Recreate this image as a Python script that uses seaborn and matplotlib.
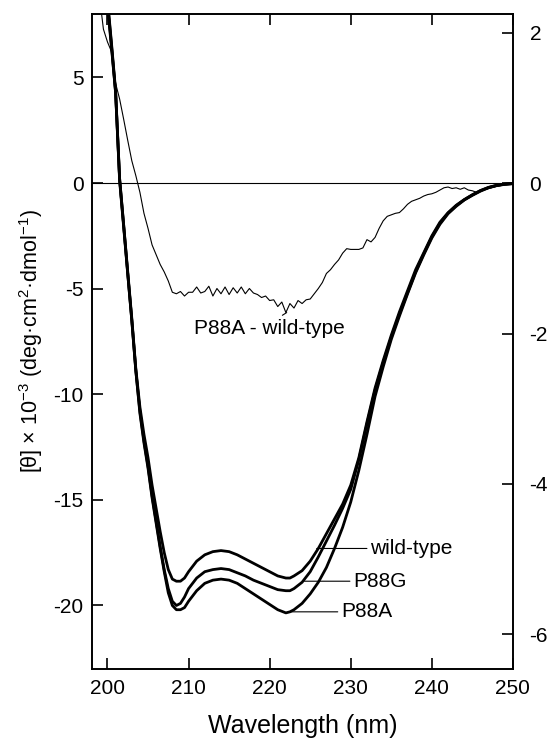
import matplotlib
matplotlib.use("Agg")
import matplotlib.pyplot as plt
import seaborn as sns

# thick spectra, left axis  ([theta] x 10^-3)
wl = [199, 200, 200.5, 201, 201.5, 202, 202.5, 203, 203.5, 204, 204.5, 205,
      205.5, 206, 206.5, 207, 207.5, 208, 208.5, 209, 209.5, 210, 211, 212,
      213, 214, 215, 216, 217, 218, 219, 220, 221, 222, 222.5, 223, 224, 225,
      226, 227, 228, 229, 230, 231, 232, 233, 234, 235, 236, 237, 238, 239,
      240, 241, 242, 243, 244, 245, 246, 247, 248, 249, 250]

wild_type = [12.5, 8.4, 6.4, 4.3, 0.2, -2.0, -4.2, -6.4, -8.8, -10.6, -11.9, -13.0,
             -14.3, -15.4, -16.5, -17.5, -18.3, -18.75, -18.85, -18.85, -18.7, -18.4, -17.9, -17.6,
             -17.45, -17.4, -17.45, -17.6, -17.8, -18.0, -18.2, -18.4, -18.6, -18.7, -18.7, -18.6, -18.35, -17.9,
             -17.3, -16.6, -15.9, -15.2, -14.3, -13.0, -11.3, -9.7, -8.4, -7.2, -6.1, -5.1, -4.1, -3.3,
             -2.5, -1.85, -1.4, -1.05, -0.78, -0.55, -0.35, -0.2, -0.1, -0.05, -0.02]

p88g = [12.8, 8.6, 6.5, 4.3, 0.1, -2.1, -4.3, -6.5, -8.9, -10.8, -12.2, -13.4,
        -14.8, -16.0, -17.2, -18.3, -19.2, -19.8, -20.0, -19.9, -19.6, -19.2, -18.7, -18.4,
        -18.3, -18.25, -18.3, -18.45, -18.6, -18.8, -18.95, -19.1, -19.25, -19.3, -19.3, -19.2, -18.9, -18.4,
        -17.7, -16.95, -16.2, -15.4, -14.5, -13.1, -11.4, -9.8, -8.5, -7.3, -6.2, -5.2, -4.2, -3.35,
        -2.55, -1.9, -1.42, -1.07, -0.79, -0.56, -0.36, -0.21, -0.11, -0.05, -0.02]

p88a = [13.0, 8.7, 6.6, 4.4, 0.2, -2.0, -4.3, -6.5, -8.9, -10.9, -12.3, -13.5,
        -14.9, -16.1, -17.3, -18.4, -19.4, -20.0, -20.2, -20.2, -20.1, -19.8, -19.3, -18.95,
        -18.8, -18.75, -18.8, -18.95, -19.2, -19.45, -19.7, -19.95, -20.2, -20.35, -20.3, -20.2, -19.9, -19.45,
        -18.9, -18.2, -17.3, -16.3, -15.1, -13.6, -11.9, -10.1, -8.7, -7.4, -6.3, -5.25, -4.25, -3.4,
        -2.6, -1.95, -1.45, -1.1, -0.8, -0.58, -0.38, -0.22, -0.12, -0.06, -0.03]

# difference spectrum P88A - wild-type, right axis
wl_diff = [199.0, 199.5, 200.0, 200.5, 201.0, 201.5, 202.0, 202.5, 203.0, 203.5,
           204.0, 204.5, 205.0, 205.5, 206.0, 206.5, 207.0, 207.5, 208.0, 208.5,
           209.0, 209.5, 210.0, 210.5, 211.0, 211.5, 212.0, 212.5, 213.0, 213.5,
           214.0, 214.5, 215.0, 215.5, 216.0, 216.5, 217.0, 217.5, 218.0, 218.5,
           219.0, 219.5, 220.0, 220.5, 221.0, 221.5, 222.0, 222.5, 223.0, 223.5,
           224.0, 224.5, 225.0, 225.5, 226.0, 226.5, 227.0, 227.5, 228.0, 228.5,
           229.0, 229.5, 230.0, 230.5, 231.0, 231.5, 232.0, 232.5, 233.0, 233.5,
           234.0, 234.5, 235.0, 235.5, 236.0, 236.5, 237.0, 237.5, 238.0, 238.5,
           239.0, 239.5, 240.0, 240.5, 241.0, 241.5, 242.0, 242.5, 243.0, 243.5,
           244.0, 244.5, 245.0, 245.5, 246.0, 247.0, 248.0, 249.0, 250.0]
diff = [2.5, 2.05, 1.88, 1.75, 1.33, 1.12, 0.85, 0.57, 0.30, 0.10,
        -0.12, -0.40, -0.60, -0.82, -0.95, -1.08, -1.18, -1.30, -1.45, -1.47,
        -1.44, -1.50, -1.45, -1.45, -1.38, -1.46, -1.44, -1.37, -1.50, -1.40,
        -1.47, -1.38, -1.48, -1.39, -1.46, -1.38, -1.47, -1.40, -1.46, -1.48,
        -1.52, -1.50, -1.56, -1.55, -1.64, -1.58, -1.72, -1.60, -1.66, -1.56,
        -1.60, -1.55, -1.54, -1.47, -1.40, -1.32, -1.20, -1.15, -1.08, -1.02,
        -0.93, -0.87, -0.88, -0.88, -0.88, -0.86, -0.75, -0.78, -0.72, -0.60,
        -0.50, -0.44, -0.42, -0.40, -0.39, -0.34, -0.28, -0.24, -0.22, -0.20,
        -0.17, -0.15, -0.14, -0.12, -0.09, -0.06, -0.05, -0.07, -0.06, -0.08,
        -0.06, -0.09, -0.10, -0.12, -0.10, -0.07, -0.04, -0.02, -0.01]

left_ticks = [5, 0, -5, -10, -15, -20]
right_ticks = [2, 0, -2, -4, -6]
x_ticks = [200, 210, 220, 230, 240, 250]

sns.set_style("ticks", {"axes.edgecolor": "black", "text.color": "black",
                        "axes.labelcolor": "black", "xtick.color": "black",
                        "ytick.color": "black"})
plt.rcParams["font.family"] = ["Liberation Sans", "DejaVu Sans"]
plt.rcParams["mathtext.default"] = "regular"
plt.rcParams["axes.unicode_minus"] = False
plt.rcParams["axes.linewidth"] = 1.2

fig = plt.figure(figsize=(5.48, 7.44), dpi=100)
ax = fig.add_axes([0.168, 0.101, 0.768, 0.880])

ax.axhline(0, color="black", lw=0.8, zorder=1)
for series in (wild_type, p88g, p88a):
    sns.lineplot(x=wl, y=series, ax=ax, color="black", lw=2.0)

ax.set_xlim(198.1, 250)
ax.set_ylim(-23, 8)
ax.set_xticks(x_ticks)
ax.set_yticks(left_ticks)
ax.tick_params(axis="x", direction="in", top=True, length=8, width=1.2,
               labelsize=15, pad=7)
ax.tick_params(axis="y", direction="in", right=False, length=8, width=1.2,
               labelsize=15, pad=6)
ax.set_xlabel("Wavelength (nm)", fontsize=18, labelpad=12)
ax.set_ylabel("[θ] × 10$^{-3}$ (deg·cm$^{2}$·dmol$^{-1}$)", fontsize=15.5, labelpad=6)

ax2 = ax.twinx()
sns.lineplot(x=wl_diff, y=diff, ax=ax2, color="black", lw=0.8)
ax2.set_ylim(-6.46, 2.25)
ax2.set_yticks(right_ticks)
ax2.tick_params(axis="y", direction="in", length=8, width=1.2, labelsize=15, pad=12)
ax2.set_ylabel("")

ann = dict(arrowstyle="-", lw=0.8, color="black", shrinkA=0, shrinkB=0)
ax2.annotate("P88A - wild-type", xy=(222.1, -1.72), xytext=(220.0, -1.80),
             ha="center", va="top", fontsize=15,
             arrowprops=dict(ann, relpos=(0.55, 1.0)))

labels = ["wild-type", "P88G", "P88A"]
label_xy = [(225.8, -17.3), (224.3, -18.85), (222.4, -20.3)]
label_text = [(232.4, -17.3), (230.3, -18.85), (228.8, -20.3)]
for name, xy, xt in zip(labels, label_xy, label_text):
    ax.annotate(name, xy=xy, xytext=xt, ha="left", va="center", fontsize=15,
                arrowprops=dict(ann, relpos=(0.0, 0.5)))

fig.savefig("out.png", dpi=100)
